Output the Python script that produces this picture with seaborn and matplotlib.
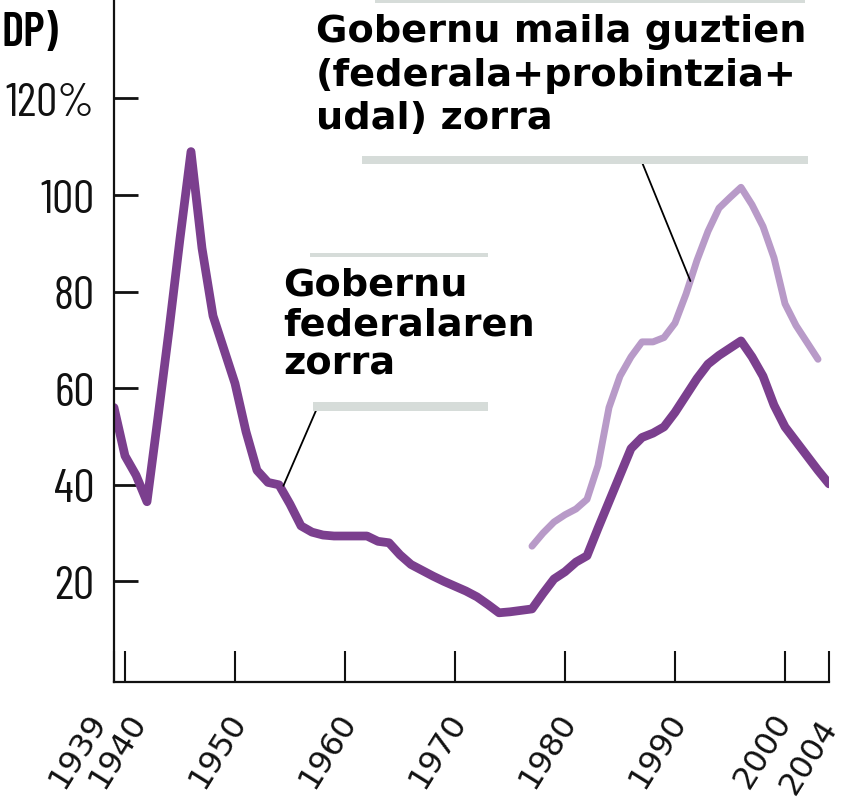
import os
import pandas as pd
import matplotlib
matplotlib.use('Agg')
import matplotlib.pyplot as plt
import matplotlib.font_manager as fm
from matplotlib.patches import Rectangle
from matplotlib.transforms import ScaledTranslation
import seaborn as sns

# data (% of GDP)
fed_years = list(range(1939, 2005))
fed_debt = [56, 46, 42, 36.5, 54, 72, 91, 109, 89, 75,          # 1939-1948
            68, 61, 51, 43, 40.5, 40, 36, 31.5, 30.2, 29.6,     # 1949-1958
            29.4, 29.4, 29.4, 29.4, 28.3, 28, 25.5, 23.5, 22.3, 21.1,  # 1959-1968
            20, 19, 18, 16.8, 15.2, 13.5, 13.7, 14, 14.3, 17.5,  # 1969-1978
            20.5, 22, 24, 25.3, 31, 36.5, 42, 47.5, 49.8, 50.7,  # 1979-1988
            52, 55, 58.5, 62, 65, 66.8, 68.3, 69.8, 66.5, 62.5,  # 1989-1998
            56.5, 52, 49, 46, 43, 40.2]                          # 1999-2004

gov_years = list(range(1977, 2004))
gov_debt = [27.3, 30, 32.3, 33.8, 35, 37, 44, 56, 62.5, 66.5,     # 1977-1986
            69.6, 69.6, 70.5, 73.5, 79.5, 86.5, 92.5, 97.3, 99.5, 101.6,  # 1987-1996
            98, 93.5, 87, 77.5, 73, 69.5, 66]                     # 1997-2003

xticks = [1939, 1940, 1950, 1960, 1970, 1980, 1990, 2000, 2004]
yticks = [20, 40, 60, 80, 100, 120]
ytick_labels = ['20', '40', '60', '80', '100', '120%']

fed_label = 'Gobernu\nfederalaren\nzorra'
gov_label = 'Gobernu maila guztien\n(federala+probintzia+\nudal) zorra'

dark = '#7b3f8e'
light = '#b89ac8'
bar_grey = '#d6dcd9'
ink = '#111111'

sns.set_style('white')
plt.rcParams['font.family'] = ['DejaVu Sans']

# condensed font for the y labels (DIN-like), falling back if missing
files = {os.path.basename(f.fname): f.fname for f in fm.fontManager.ttflist}


def pick(names, **fallback):
    for name in names:
        if name in files:
            return fm.FontProperties(fname=files[name])
    return fm.FontProperties(family='DejaVu Sans', **fallback)


narrow = pick(['BarlowCondensed-Regular.ttf', 'ArchivoNarrow[wght].ttf',
               'LiberationSansNarrow-Regular.ttf', 'DejaVuSansCondensed.ttf'])
narrow_bold = pick(['BarlowCondensed-SemiBold.ttf', 'BarlowCondensed-Bold.ttf',
                    'DejaVuSansCondensed-Bold.ttf'], weight='bold')

W, H = 855, 803
fig = plt.figure(figsize=(W / 100, H / 100), dpi=100)
ax = fig.add_axes([114 / W, 120 / H, 715 / W, 683 / H])

fed = pd.DataFrame({'year': fed_years, 'debt': fed_debt})
gov = pd.DataFrame({'year': gov_years, 'debt': gov_debt})

sns.lineplot(data=gov, x='year', y='debt', color=light, lw=5, ax=ax,
             solid_capstyle='round')
sns.lineplot(data=fed, x='year', y='debt', color=dark, lw=6.3, ax=ax,
             solid_capstyle='round')

ax.set_xlim(1939, 2004)
ax.set_ylim(-0.83, 140.6)
ax.set_xlabel('')
ax.set_ylabel('')

for s in ['top', 'right']:
    ax.spines[s].set_visible(False)
for s in ['left', 'bottom']:
    ax.spines[s].set_color(ink)
    ax.spines[s].set_linewidth(1.6)

ax.set_yticks(yticks)
ax.set_yticklabels(ytick_labels, fontproperties=narrow, fontsize=34)
ax.tick_params(axis='y', direction='in', length=17, width=2.0, pad=14,
               colors=ink, left=True)

ax.set_xticks(xticks)
ax.set_xticklabels([str(t) for t in xticks], fontsize=23, rotation=58,
                   ha='right', va='top', rotation_mode='anchor')
ax.tick_params(axis='x', direction='in', length=22, width=1.5, pad=18,
               colors=ink, bottom=True)

# nudge the crowded labels apart like the original
shift = {1939: (-28, 0), 1940: (1, 0), 2000: (-13, 0), 2004: (-12, -6)}
for t, lab in zip(xticks, ax.get_xticklabels()):
    dx, dy = shift.get(t, (-9, 0))
    lab.set_transform(lab.get_transform() +
                      ScaledTranslation(dx / 100, dy / 100, fig.dpi_scale_trans))


def grey_bar(x0, y0, x1, y1):
    fig.add_artist(Rectangle((x0 / W, 1 - y1 / H), (x1 - x0) / W, (y1 - y0) / H,
                             transform=fig.transFigure, color=bar_grey, lw=0))


grey_bar(375, 0, 805, 4)
grey_bar(362, 157, 808, 165)
grey_bar(310, 254, 488, 258)
grey_bar(313, 403, 488, 412)

fig.text(316 / W, 1 - 14 / H, gov_label, fontsize=27.5, fontweight='bold',
         color='black', ha='left', va='top', linespacing=1.27)
fig.text(283 / W, 1 - 268 / H, fed_label, fontsize=27.5, fontweight='bold',
         color='black', ha='left', va='top', linespacing=1.11)

ax.annotate('', xy=(1991.4, 82.2), xytext=(1987.0, 106.8),
            arrowprops=dict(arrowstyle='-', color='black', lw=1.3,
                            shrinkA=0, shrinkB=0))
ax.annotate('', xy=(1954.4, 39.8), xytext=(1957.5, 56.1),
            arrowprops=dict(arrowstyle='-', color='black', lw=1.3,
                            shrinkA=0, shrinkB=0))

fig.text(1 / W, 1 - 12 / H, 'DP)', fontproperties=narrow_bold, fontsize=34,
         color='black', ha='left', va='top')

fig.savefig('out.png', dpi=100)
